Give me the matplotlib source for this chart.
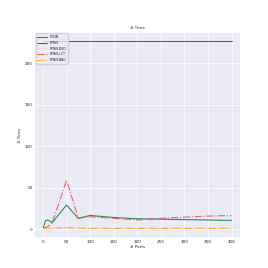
import matplotlib
matplotlib.use("Agg")
import matplotlib.pyplot as plt
import seaborn as sns

sns.set_theme(style="darkgrid")
plt.rcParams['font.family'] = ['DejaVu Sans']

parts = [1, 5, 10, 20, 50, 75, 100, 150, 200, 250, 300, 350, 400]

pcnn = [2, 10, 11, 8, 29, 13, 16.5, 14, 12.5, 12, 11.5, 11, 10.5]
fpnn = [226.5] * len(parts)
fpnn_bsd = [0.3, 0.4, 0.4, 0.5, 0.6, 0.5, 0.5, 0.5, 0.5, 0.5, 0.5, 0.5, 0.5]
fpnn_lct = [1, 2, 3, 8, 59, 13, 15, 13, 11, 13, 14.5, 15.7, 16.4]
fpnn_bag = [1, 1, 1, 1.2, 2, 1.2, 1, 1, 1, 1, 1, 1, 1]

fig = plt.figure(figsize=(2.68, 2.68), dpi=100)
ax = fig.add_axes([0.127, 0.111, 0.772, 0.77])

ax.plot(parts, pcnn, color="seagreen", lw=0.8, label="PCNN")
ax.plot(parts, fpnn, color="#8a2b8a", lw=0.7, label="FPNN")
ax.plot(parts, fpnn_bsd, color="pink", lw=0.8, alpha=0.4, label="FPNN-BSD")
ax.plot(parts, fpnn_lct, color="#e8474d", lw=0.8, ls="-.", alpha=0.8, label="FPNN-LCT")
ax.plot(parts, fpnn_bag, color="orange", lw=0.8, ls="-.", alpha=0.8, label="FPNN-BAG")

ax.set_title("# Time", fontsize=3, pad=2)
ax.set_xlabel("# Parts", fontsize=3, labelpad=1)
ax.set_ylabel("# Time", fontsize=3, labelpad=2)
ax.set_xticks([0, 50, 100, 150, 200, 250, 300, 350, 400])
ax.set_yticks([0, 50, 100, 150, 200])
ax.tick_params(labelsize=3, pad=1, length=0)
ax.grid(lw=0.5)

ax.legend(loc="upper left", fontsize=2.3, handlelength=3, borderpad=0.5,
          labelspacing=0.55, frameon=True)

fig.savefig("out.png", dpi=100)
